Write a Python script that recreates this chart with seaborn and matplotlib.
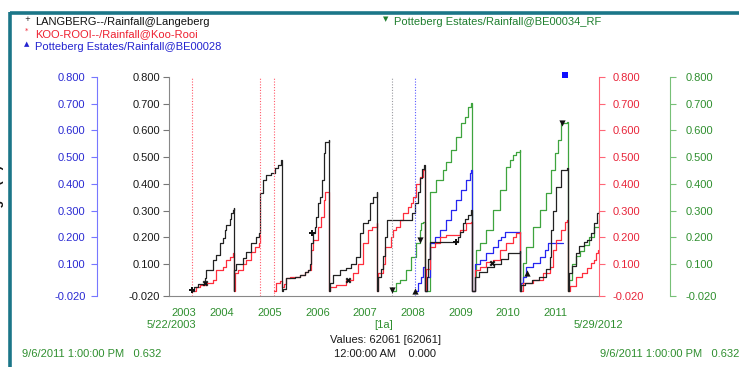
import numpy as np
import pandas as pd
import matplotlib
matplotlib.use("Agg")
import matplotlib.pyplot as plt
from matplotlib.lines import Line2D
import seaborn as sns

sns.set_style("white")
plt.rcParams['font.family'] = ['Liberation Sans', 'DejaVu Sans']

# ---------------- data (decimal years, cumulative rainfall) ----------------
langeberg_x = [2003.861, 2003.92, 2003.99, 2004.134, 2004.169, 2004.309, 2004.379, 2004.449, 2004.519, 2004.554,
               2004.589, 2004.659, 2004.694, 2004.729, 2004.75, 2004.75,
               2004.76, 2004.80, 2004.94, 2005.009, 2005.114, 2005.219, 2005.275, 2005.289, 2005.359, 2005.429,
               2005.534, 2005.604, 2005.674, 2005.744, 2005.75,
               2005.78, 2005.849, 2006.024, 2006.129, 2006.234, 2006.304, 2006.339, 2006.374, 2006.409, 2006.444,
               2006.479, 2006.514, 2006.549, 2006.605, 2006.634, 2006.669, 2006.74, 2006.75,
               2006.76, 2006.83, 2006.97, 2007.11, 2007.215, 2007.32, 2007.39, 2007.46, 2007.565, 2007.60,
               2007.67, 2007.74, 2007.75,
               2007.78, 2007.84, 2007.875, 2007.91, 2007.959, 2008.49, 2008.54, 2008.60, 2008.65, 2008.70,
               2008.74, 2008.75,
               2008.79, 2008.82, 2008.855, 2009.45, 2009.485, 2009.555, 2009.59, 2009.66, 2009.73, 2009.75,
               2009.80, 2009.90, 2010.05, 2010.20, 2010.35, 2010.50, 2010.74, 2010.75,
               2010.78, 2010.85, 2011.00, 2011.15, 2011.30, 2011.375, 2011.41, 2011.445, 2011.515, 2011.62,
               2011.74, 2011.75,
               2011.778, 2011.848, 2011.918, 2011.988, 2012.093, 2012.163, 2012.233, 2012.303, 2012.373, 2012.40]
langeberg_y = [0.000, 0.012, 0.025, 0.046, 0.077, 0.115, 0.134, 0.177, 0.196, 0.227,
               0.246, 0.270, 0.290, 0.302, 0.310, 0.000,
               0.077, 0.100, 0.121, 0.146, 0.177, 0.200, 0.215, 0.365, 0.414, 0.433,
               0.440, 0.458, 0.470, 0.490, 0.000,
               0.005, 0.046, 0.052, 0.059, 0.070, 0.077, 0.100, 0.177, 0.215, 0.240,
               0.277, 0.327, 0.352, 0.414, 0.514, 0.558, 0.564, 0.000,
               0.027, 0.059, 0.077, 0.083, 0.100, 0.127, 0.215, 0.252, 0.265, 0.327,
               0.352, 0.371, 0.000,
               0.052, 0.080, 0.130, 0.200, 0.265, 0.290, 0.330, 0.370, 0.420, 0.455,
               0.470, 0.000,
               0.050, 0.120, 0.184, 0.200, 0.220, 0.252, 0.270, 0.285, 0.302, 0.000,
               0.050, 0.070, 0.090, 0.100, 0.120, 0.140, 0.150, 0.000,
               0.020, 0.030, 0.040, 0.050, 0.080, 0.127, 0.227, 0.300, 0.390, 0.450,
               0.458, 0.000,
               0.066, 0.091, 0.140, 0.166, 0.184, 0.190, 0.215, 0.253, 0.290, 0.300]

koorooi_x = [2003.861, 2003.96, 2004.03, 2004.169, 2004.309, 2004.379, 2004.519, 2004.589, 2004.659, 2004.729,
             2004.75, 2004.75,
             2004.764, 2004.834, 2004.939, 2005.009, 2005.114, 2005.184, 2005.275, 2005.289,
             2005.590, 2005.639, 2005.709, 2005.75,
             2005.80, 2005.849, 2005.919, 2006.129, 2006.234, 2006.304, 2006.374, 2006.409, 2006.514, 2006.584,
             2006.634, 2006.669, 2006.75,
             2006.76, 2006.90, 2007.11, 2007.25, 2007.355, 2007.46, 2007.565, 2007.635, 2007.74, 2007.75,
             2007.78, 2007.875, 2007.91, 2008.05, 2008.085, 2008.155, 2008.225, 2008.295, 2008.40, 2008.47,
             2008.505, 2008.575, 2008.645, 2008.715, 2008.75,
             2008.785, 2008.855, 2008.96, 2009.065, 2009.205, 2009.415, 2009.485, 2009.625, 2009.73, 2009.75,
             2009.80, 2009.905, 2010.045, 2010.185, 2010.325, 2010.465, 2010.605, 2010.675, 2010.745, 2010.75,
             2010.815, 2011.025, 2011.235, 2011.375, 2011.445, 2011.515, 2011.62, 2011.69, 2011.74, 2011.75,
             2011.81, 2011.918, 2012.058, 2012.163, 2012.233, 2012.303, 2012.338, 2012.387]
koorooi_y = [0.000, 0.015, 0.021, 0.027, 0.040, 0.077, 0.090, 0.115, 0.127, 0.140,
             0.140, 0.000,
             0.065, 0.077, 0.100, 0.115, 0.146, 0.165, 0.177, 0.210,
             0.000, 0.027, 0.035, 0.015,
             0.025, 0.046, 0.050, 0.059, 0.070, 0.077, 0.152, 0.190, 0.240, 0.277,
             0.340, 0.371, 0.000,
             0.015, 0.021, 0.040, 0.065, 0.100, 0.177, 0.227, 0.240, 0.255, 0.000,
             0.065, 0.100, 0.165, 0.200, 0.227, 0.240, 0.265, 0.290, 0.315, 0.327,
             0.352, 0.400, 0.427, 0.452, 0.000,
             0.080, 0.165, 0.177, 0.200, 0.210, 0.210, 0.227, 0.252, 0.258, 0.000,
             0.077, 0.090, 0.109, 0.115, 0.152, 0.177, 0.200, 0.215, 0.221, 0.000,
             0.027, 0.040, 0.065, 0.090, 0.152, 0.190, 0.227, 0.258, 0.265, 0.000,
             0.016, 0.053, 0.066, 0.085, 0.103, 0.116, 0.140, 0.153]
koorooi_gaps = [(2005.289, 2005.590)]

be28_x = [2008.548, 2008.61, 2008.68, 2008.715, 2008.75,
          2008.80, 2008.855, 2008.96, 2009.065, 2009.205, 2009.31, 2009.415, 2009.52, 2009.625, 2009.695,
          2009.73, 2009.75,
          2009.80, 2009.905, 2010.045, 2010.185, 2010.29, 2010.36, 2010.43, 2010.745, 2010.75,
          2010.78, 2010.815, 2010.885, 2011.025, 2011.165, 2011.27, 2011.34, 2011.655]
be28_y = [0.000, 0.027, 0.052, 0.090, 0.000,
          0.050, 0.177, 0.200, 0.227, 0.265, 0.302, 0.340, 0.377, 0.414, 0.440,
          0.452, 0.000,
          0.100, 0.115, 0.140, 0.165, 0.190, 0.200, 0.221, 0.221, 0.000,
          0.027, 0.052, 0.090, 0.102, 0.127, 0.152, 0.177, 0.177]

be34_x = [2008.064, 2008.155, 2008.225, 2008.365, 2008.47, 2008.575, 2008.645, 2008.68, 2008.715, 2008.75,
          2008.855, 2008.86, 2008.995, 2009.135, 2009.205, 2009.31, 2009.415, 2009.52, 2009.59, 2009.66,
          2009.73, 2009.75,
          2009.80, 2009.835, 2009.905, 2010.045, 2010.185, 2010.325, 2010.465, 2010.535, 2010.605, 2010.675,
          2010.745, 2010.75,
          2010.78, 2010.815, 2010.885, 2011.025, 2011.165, 2011.305, 2011.41, 2011.48, 2011.55, 2011.62,
          2011.735, 2011.75,
          2011.78, 2011.85, 2011.92, 2012.00, 2012.10, 2012.20, 2012.30, 2012.40]
be34_y = [0.000, 0.027, 0.040, 0.077, 0.127, 0.177, 0.227, 0.252, 0.258, 0.000,
          0.000, 0.370, 0.414, 0.452, 0.480, 0.527, 0.577, 0.627, 0.652, 0.689,
          0.702, 0.000,
          0.050, 0.152, 0.177, 0.227, 0.302, 0.377, 0.464, 0.489, 0.508, 0.521,
          0.527, 0.000,
          0.027, 0.102, 0.165, 0.240, 0.302, 0.364, 0.452, 0.514, 0.564, 0.627,
          0.632, 0.000,
          0.040, 0.100, 0.130, 0.150, 0.170, 0.200, 0.240, 0.270]

# missing-data boundaries (dotted verticals)
koorooi_breaks = [2003.861, 2005.289, 2005.590]
be34_breaks = [2008.064]
be28_breaks = [2008.548]

# point markers shown on the traces
mk_plus_x, mk_plus_y = [2003.861, 2006.38, 2009.41], [0.004, 0.215, 0.184]
mk_star_x, mk_star_y = [2004.137, 2007.14, 2010.165], [0.030, 0.040, 0.105]
mk_up_x, mk_up_y = [2008.548, 2010.90], [0.000, 0.067]
mk_down_x, mk_down_y = [2008.064, 2008.65, 2011.63], [0.003, 0.190, 0.628]
mk_sq_x, mk_sq_y = [2011.70], [0.807]

years = list(range(2003, 2012))
y_ticks = [-0.02, 0.1, 0.2, 0.3, 0.4, 0.5, 0.6, 0.7, 0.8]
y_labels = ["-0.020", "0.100", "0.200", "0.300", "0.400", "0.500", "0.600", "0.700", "0.800"]
x_start, x_end = 2003.386, 2012.408

# ---------------- figure ----------------
W, H = 739, 367
fig = plt.figure(figsize=(W / 100, H / 100), dpi=100)
fig.patch.set_facecolor("white")

def fx(px):
    return px / W

def fy(py):
    return 1 - py / H

L, R, T, B = 169, 599, 77, 296
ax = fig.add_axes([fx(L), fy(B), fx(R) - fx(L), fy(T) - fy(B)])
ax.set_facecolor("none")

C_BLACK = "#222222"
C_RED = "#ff2d3c"
C_BLUE = "#2626f0"
C_GREEN = "#3ea43e"

def series_frame(xs, ys, gaps=()):
    df = pd.DataFrame({"year": xs, "value": ys})
    part = np.zeros(len(df), dtype=int)
    for g0, g1 in gaps:
        part += (df["year"].values >= g1 - 1e-9).astype(int) * 1
    df["part"] = part
    return df

for xs, ys, gaps, col in [
    (be34_x, be34_y, (), C_GREEN),
    (be28_x, be28_y, (), C_BLUE),
    (koorooi_x, koorooi_y, koorooi_gaps, C_RED),
    (langeberg_x, langeberg_y, (), C_BLACK),
]:
    df = series_frame(xs, ys, gaps)
    sns.lineplot(data=df, x="year", y="value", units="part", estimator=None, sort=False,
                 drawstyle="steps-post", color=col, lw=0.9, ax=ax, legend=False)

for xb in koorooi_breaks:
    ax.axvline(xb, color="#ff5a6a", ls=(0, (1, 1.5)), lw=0.8)
for xb in be34_breaks:
    ax.axvline(xb, color="#9a9aa0", ls=(0, (1, 1.5)), lw=0.8)
for xb in be28_breaks:
    ax.axvline(xb, color="#5a5aff", ls=(0, (1, 1.5)), lw=0.8)

sns.scatterplot(x=mk_plus_x, y=mk_plus_y, marker="P", s=20, color="#111111", ax=ax, linewidth=0, zorder=5)
sns.scatterplot(x=mk_star_x, y=mk_star_y, marker="X", s=18, color="#111111", ax=ax, linewidth=0, zorder=5)
sns.scatterplot(x=mk_up_x, y=mk_up_y, marker="^", s=20, color="#111111", ax=ax, linewidth=0, zorder=5)
sns.scatterplot(x=mk_down_x, y=mk_down_y, marker="v", s=20, color="#111111", ax=ax, linewidth=0, zorder=5)
sns.scatterplot(x=mk_sq_x, y=mk_sq_y, marker="s", s=20, color="#1010ff", ax=ax, linewidth=0, zorder=5,
                clip_on=False)

ax.set_xlim(x_start, x_end)
ax.set_ylim(-0.02, 0.8)
ax.set_xlabel("")
ax.set_ylabel("")

# x axis: year boundary ticks + centred year labels
bounds = [y for y in range(2004, 2013)]
ax.set_xticks(bounds)
ax.set_xticklabels([])
mids = [(max(y, x_start) + min(y + 1, x_end)) / 2 for y in years]
ax.set_xticks(mids, minor=True)
ax.set_xticklabels([str(y) for y in years], minor=True)
ax.tick_params(axis="x", which="major", direction="out", length=5, width=0.8, color="#7fbf7f", bottom=True)
ax.tick_params(axis="x", which="minor", length=0, pad=9, labelsize=8, labelcolor="#2f8f2f")

# main (black) y axis
ax.set_yticks(y_ticks)
ax.set_yticklabels(y_labels)
ax.tick_params(axis="y", direction="out", length=4, width=0.8, color="#777777", pad=2.5,
               labelsize=8, labelcolor="#1a1a1a", left=True)
for s in ["top", "right"]:
    ax.spines[s].set_visible(False)
ax.spines["left"].set_color("#888888")
ax.spines["bottom"].set_color("#888888")
ax.spines["left"].set_linewidth(0.8)
ax.spines["bottom"].set_linewidth(0.8)

def extra_axis(side, pos, spine_col, lab_col, pad):
    a = ax.twinx()
    a.set_ylim(-0.02, 0.8)
    for s in a.spines.values():
        s.set_visible(False)
    a.spines[side].set_visible(True)
    a.spines[side].set_position(("axes", pos))
    a.spines[side].set_color(spine_col)
    a.spines[side].set_linewidth(0.8)
    a.yaxis.set_ticks_position(side)
    a.yaxis.set_label_position(side)
    a.set_yticks(y_ticks)
    a.set_yticklabels(y_labels)
    a.tick_params(axis="y", direction="out", length=4, width=0.8, color=spine_col, pad=pad,
                  labelsize=8, labelcolor=lab_col)
    a.set_xticks([])
    return a

width_px = R - L
extra_axis("left", (97 - L) / width_px, "#7777ff", "#2a2ad2", 4.3)
extra_axis("right", 1.0, "#ff6677", "#e8253a", 5.5)
extra_axis("right", (670 - L) / width_px, "#77c077", "#2f8f2f", 7.5)

# ---------------- legend & annotations ----------------
fs = 8
leg = [
    (27, 35, 22, "+", "LANGBERG--/Rainfall@Langeberg", "#111111"),
    (27, 35, 34, "*", "KOO-ROOI--/Rainfall@Koo-Rooi", "#ee2030"),
    (27, 35, 47, "\u25b2", "Potteberg Estates/Rainfall@BE00028", "#2424d0"),
    (386, 394, 22, "\u25bc", "Potteberg Estates/Rainfall@BE00034_RF", "#1f7f2f"),
]
for mx, tx, ty, m, txt, col in leg:
    fig.text(fx(mx), fy(ty - 3), m, fontsize=5, color="#111111" if m == "+" else col,
             ha="center", va="center", family=["DejaVu Sans"])
    fig.text(fx(tx), fy(ty), txt, fontsize=fs, color=col, ha="left", va="center")

fig.text(fx(171), fy(325), "5/22/2003", fontsize=fs, color="#2f8f2f", ha="center", va="center")
fig.text(fx(598), fy(325), "5/29/2012", fontsize=fs, color="#2f8f2f", ha="center", va="center")
fig.text(fx(384), fy(325), "[1a]", fontsize=fs, color="#2f8f2f", ha="center", va="center")
fig.text(fx(385), fy(340), "Values: 62061 [62061]", fontsize=fs, color="#1a1a1a", ha="center", va="center")
fig.text(fx(385), fy(354), "12:00:00 AM    0.000", fontsize=fs, color="#1a1a1a", ha="center", va="center")
fig.text(fx(22), fy(354), "9/6/2011 1:00:00 PM   0.632", fontsize=fs, color="#2f8f2f", ha="left", va="center")
fig.text(fx(600), fy(354), "9/6/2011 1:00:00 PM   0.632", fontsize=fs, color="#2f8f2f", ha="left", va="center")

# rotated axis caption, mostly cut off by the left edge (as in the source screenshot)
fig.text(fx(-2), fy(196), "Height (in)", fontsize=9, fontweight="bold", color="#111111",
         rotation=90, ha="center", va="center")

# teal frame
fig.add_artist(Line2D([fx(9.5), 1.0], [fy(12.5), fy(12.5)], transform=fig.transFigure,
                      color="#1b7688", lw=2.6, solid_capstyle="butt"))
fig.add_artist(Line2D([fx(9.5), fx(9.5)], [fy(11.5), 0.0], transform=fig.transFigure,
                      color="#1b7688", lw=2.6, solid_capstyle="butt"))

fig.savefig("out.png", dpi=100, facecolor="white")
